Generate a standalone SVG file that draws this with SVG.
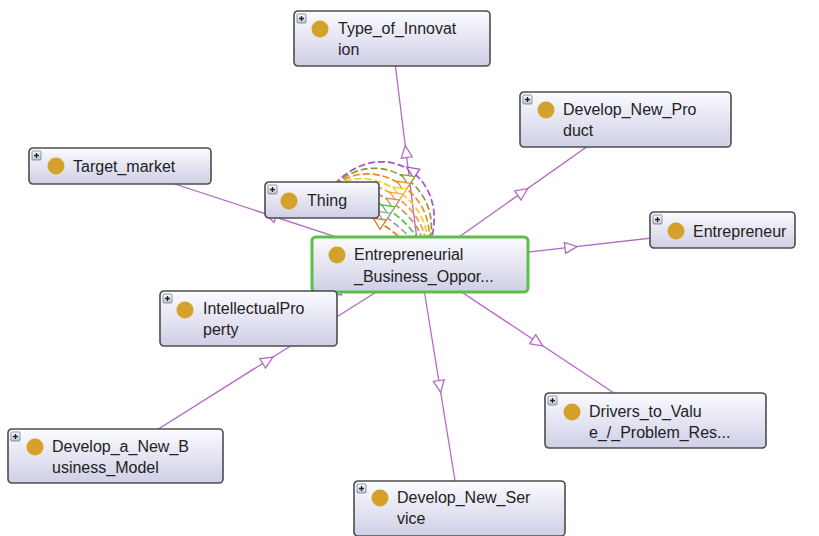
<svg xmlns="http://www.w3.org/2000/svg" xmlns:xlink="http://www.w3.org/1999/xlink" width="819" height="536" viewBox="0 0 819 536">
<defs>
<linearGradient id="nodeGrad" x1="0" y1="0" x2="0" y2="1">
<stop offset="0" stop-color="#fbfbff"/>
<stop offset="1" stop-color="#cfcfe6"/>
</linearGradient>
<linearGradient id="plusGrad" x1="0" y1="0" x2="0" y2="1">
<stop offset="0" stop-color="#ffffff"/>
<stop offset="1" stop-color="#b8c4d4"/>
</linearGradient>
<polygon id="tri" points="6,0 -6,-5.5 -6,5.5"/>
<g id="plus">
<rect x="0" y="0" width="9" height="9" rx="1" fill="url(#plusGrad)" stroke="#6f7f95" stroke-width="0.8"/>
<path d="M2 4.5H7M4.5 2V7" stroke="#222" stroke-width="1.3"/>
</g>
</defs>
<style>
.box{fill:url(#nodeGrad);stroke:#4d4d4d;stroke-width:1.6}
.sel{fill:url(#nodeGrad);stroke:#5cbf4a;stroke-width:3}
.dot{fill:#d4a22b}
.lbl{font-family:"Liberation Sans",Arial,sans-serif;font-size:16px;fill:#222}
.edge{stroke:#b36ac4;stroke-width:1.3;fill:none}
.arr{fill:#fff;stroke:#b36ac4;stroke-width:1.3}
.loop{fill:none;stroke-width:1.7;stroke-dasharray:7 3}
.larr{fill:#fff;stroke-width:1.3}
</style>
<rect width="819" height="536" fill="#fff"/>
<g id="connectors">
<line class="edge" x1="420" y1="264.5" x2="392" y2="38.5"/>
<line class="edge" x1="420" y1="264.5" x2="625.5" y2="119.5"/>
<line class="edge" x1="420" y1="264.5" x2="120" y2="166"/>
<line class="edge" x1="420" y1="264.5" x2="722" y2="230"/>
<line class="edge" x1="420" y1="264.5" x2="248.5" y2="318.5"/>
<line class="edge" x1="420" y1="264.5" x2="115.5" y2="456"/>
<line class="edge" x1="420" y1="264.5" x2="655.5" y2="420.5"/>
<line class="edge" x1="420" y1="264.5" x2="459.5" y2="508.5"/>
<use href="#tri" class="arr" transform="translate(406,151.5) rotate(-97.1)"/>
<use href="#tri" class="arr" transform="translate(522.75,192) rotate(-35.2)"/>
<use href="#tri" class="arr" transform="translate(270,215.25) rotate(198.2)"/>
<use href="#tri" class="arr" transform="translate(571,247.25) rotate(-6.5)"/>
<use href="#tri" class="arr" transform="translate(334.25,291.5) rotate(162.5)"/>
<use href="#tri" class="arr" transform="translate(267.75,360.25) rotate(-32.2)"/>
<use href="#tri" class="arr" transform="translate(537.75,342.5) rotate(33.5)"/>
<use href="#tri" class="arr" transform="translate(439.75,386.5) rotate(80.8)"/>
<path class="loop" stroke="#a453c8" d="M322 200C376.3 117.6 470 182.1 420 264.5"/>
<path class="loop" stroke="#8c9a3c" d="M322 200C369.7 127.6 464 192.1 420 264.5"/>
<path class="loop" stroke="#f08a24" d="M322 200C363.8 136.5 458.5 201 420 264.5"/>
<path class="loop" stroke="#f0d020" d="M322 200C358.7 144.3 453.5 208.8 420 264.5"/>
<path class="loop" stroke="#f4a040" d="M322 200C354.3 151 449.5 215.5 420 264.5"/>
<path class="loop" stroke="#c8905a" d="M322 200C349.1 158.8 445 223.3 420 264.5"/>
<path class="loop" stroke="#5cc040" d="M322 200C343.3 167.7 440 232.2 420 264.5"/>
<path class="loop" stroke="#a0a0a0" d="M322 200C337.4 176.6 435 241.1 420 264.5"/>
<path class="loop" stroke="#e07828" d="M322 200C331.5 185.5 429.5 250 420 264.5"/>
<use href="#tri" class="larr" stroke="#a453c8" transform="translate(411.7,170.5) rotate(213.4)"/>
<use href="#tri" class="larr" stroke="#8c9a3c" transform="translate(406.75,178) rotate(213.4)"/>
<use href="#tri" class="larr" stroke="#f08a24" transform="translate(402.35,184.65) rotate(213.4)"/>
<use href="#tri" class="larr" stroke="#f0d020" transform="translate(398.5,190.5) rotate(213.4)"/>
<use href="#tri" class="larr" stroke="#f4a040" transform="translate(395.2,195.5) rotate(213.4)"/>
<use href="#tri" class="larr" stroke="#c8905a" transform="translate(391.35,201.35) rotate(213.4)"/>
<use href="#tri" class="larr" stroke="#5cc040" transform="translate(386.95,208.05) rotate(213.4)"/>
<use href="#tri" class="larr" stroke="#a0a0a0" transform="translate(382.55,214.7) rotate(213.4)"/>
<use href="#tri" class="larr" stroke="#e07828" transform="translate(378.15,221.4) rotate(213.4)"/>
</g>
<g id="node-type-of-innovation" transform="translate(294,11)">
<rect class="box" width="196" height="55" rx="4"/>
<use href="#plus" x="3" y="3"/>
<circle class="dot" cx="26" cy="18" r="8.5"/>
<text class="lbl" x="44" y="23">Type_of_Innovat</text>
<text class="lbl" x="44" y="44">ion</text>
</g>
<g id="node-develop-new-product" transform="translate(520,92)">
<rect class="box" width="211" height="55" rx="4"/>
<use href="#plus" x="3" y="3"/>
<circle class="dot" cx="26" cy="18" r="8.5"/>
<text class="lbl" x="43" y="23">Develop_New_Pro</text>
<text class="lbl" x="43" y="44">duct</text>
</g>
<g id="node-target-market" transform="translate(29,148)">
<rect class="box" width="182" height="36" rx="4"/>
<use href="#plus" x="3" y="3"/>
<circle class="dot" cx="27" cy="18" r="8.5"/>
<text class="lbl" x="44" y="24">Target_market</text>
</g>
<g id="node-thing" transform="translate(265,182)">
<rect class="box" width="114" height="36" rx="4"/>
<use href="#plus" x="3" y="3"/>
<circle class="dot" cx="24" cy="19" r="8.5"/>
<text class="lbl" x="42" y="24">Thing</text>
</g>
<g id="node-entrepreneur" transform="translate(650,212)">
<rect class="box" width="145" height="36" rx="4"/>
<use href="#plus" x="3" y="3"/>
<circle class="dot" cx="26" cy="19" r="8.5"/>
<text class="lbl" x="43" y="25">Entrepreneur</text>
</g>
<g id="node-entrepreneurial-business-opportunity" transform="translate(312,237)">
<rect class="sel" width="216" height="55" rx="4"/>
<circle class="dot" cx="25" cy="18" r="8.5"/>
<text class="lbl" x="42" y="23">Entrepreneurial</text>
<text class="lbl" x="42" y="45">_Business_Oppor...</text>
</g>
<g id="node-intellectual-property" transform="translate(160,291)">
<rect class="box" width="177" height="55" rx="4"/>
<use href="#plus" x="3" y="3"/>
<circle class="dot" cx="25" cy="19" r="8.5"/>
<text class="lbl" x="43" y="23">IntellectualPro</text>
<text class="lbl" x="43" y="44">perty</text>
</g>
<g id="node-develop-a-new-business-model" transform="translate(8,429)">
<rect class="box" width="215" height="54" rx="4"/>
<use href="#plus" x="3" y="3"/>
<circle class="dot" cx="27" cy="18" r="8.5"/>
<text class="lbl" x="44" y="23">Develop_a_New_B</text>
<text class="lbl" x="44" y="44">usiness_Model</text>
</g>
<g id="node-drivers-to-value" transform="translate(545,393)">
<rect class="box" width="221" height="55" rx="4"/>
<use href="#plus" x="3" y="3"/>
<circle class="dot" cx="27" cy="19" r="8.5"/>
<text class="lbl" x="44" y="24">Drivers_to_Valu</text>
<text class="lbl" x="44" y="45">e_/_Problem_Res...</text>
</g>
<g id="node-develop-new-service" transform="translate(354,481)">
<rect class="box" width="211" height="55" rx="4"/>
<use href="#plus" x="3" y="3"/>
<circle class="dot" cx="26" cy="17" r="8.5"/>
<text class="lbl" x="43" y="22">Develop_New_Ser</text>
<text class="lbl" x="43" y="43">vice</text>
</g>
</svg>
